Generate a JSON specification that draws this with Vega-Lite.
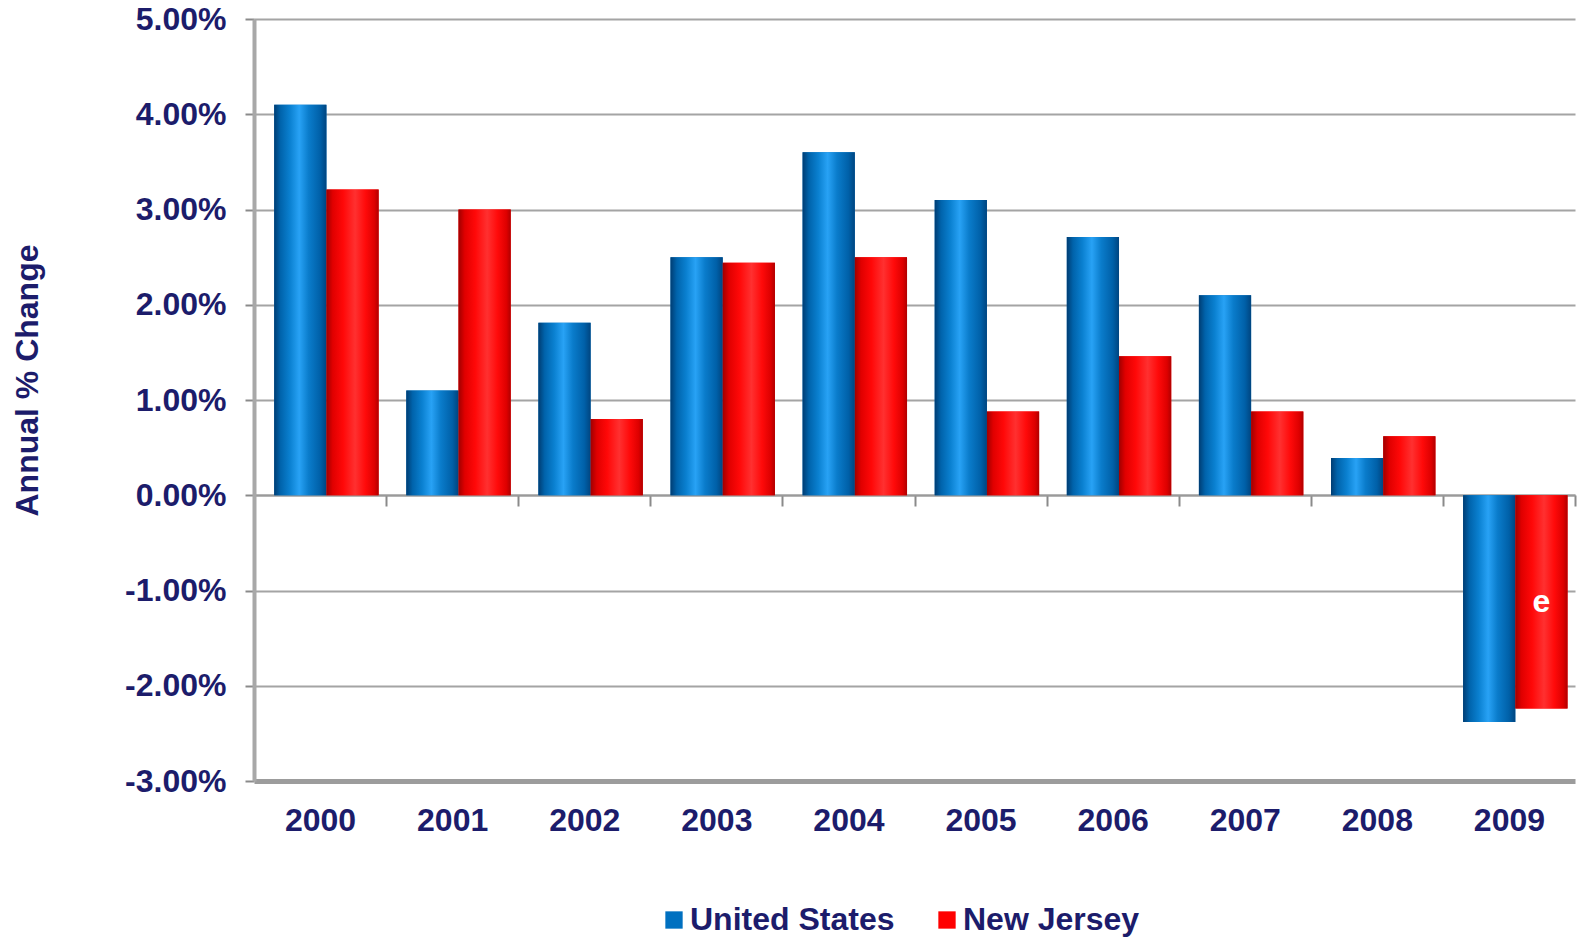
{
  "$schema": "https://vega.github.io/schema/vega-lite/v6.json",
  "width": 1321,
  "height": 762,
  "autosize": {"type": "none"},
  "padding": {"left": 254, "top": 19, "right": 2, "bottom": 156},
  "background": "white",
  "config": {
    "font": "Liberation Sans",
    "view": {"stroke": null}
  },
  "data": {
    "values": [
      {"year": "2000", "series": "United States", "value": 0.0410},
      {"year": "2000", "series": "New Jersey", "value": 0.0321},
      {"year": "2001", "series": "United States", "value": 0.0110},
      {"year": "2001", "series": "New Jersey", "value": 0.0300},
      {"year": "2002", "series": "United States", "value": 0.0181},
      {"year": "2002", "series": "New Jersey", "value": 0.0080},
      {"year": "2003", "series": "United States", "value": 0.0250},
      {"year": "2003", "series": "New Jersey", "value": 0.0244},
      {"year": "2004", "series": "United States", "value": 0.0360},
      {"year": "2004", "series": "New Jersey", "value": 0.0250},
      {"year": "2005", "series": "United States", "value": 0.0310},
      {"year": "2005", "series": "New Jersey", "value": 0.0088},
      {"year": "2006", "series": "United States", "value": 0.0271},
      {"year": "2006", "series": "New Jersey", "value": 0.0146},
      {"year": "2007", "series": "United States", "value": 0.0210},
      {"year": "2007", "series": "New Jersey", "value": 0.0088},
      {"year": "2008", "series": "United States", "value": 0.0039},
      {"year": "2008", "series": "New Jersey", "value": 0.0062},
      {"year": "2009", "series": "United States", "value": -0.0238, "note": ""},
      {"year": "2009", "series": "New Jersey", "value": -0.0224, "note": "e"}
    ]
  },
  "encoding": {
    "x": {
      "field": "year",
      "type": "nominal",
      "scale": {"paddingInner": 0, "paddingOuter": 0},
      "axis": {
        "title": null,
        "orient": "bottom",
        "offset": -286,
        "tickBand": "extent",
        "labelAngle": 0,
        "labelFont": "Liberation Sans",
        "labelFontWeight": "bold",
        "labelFontSize": 32,
        "labelColor": "#1c1c6b",
        "labelPadding": 299,
        "labelBaseline": "top",
        "domainColor": "#9a9a9a",
        "domainWidth": 2,
        "tickColor": "#8a8a8a",
        "tickWidth": 2,
        "tickSize": 11,
        "grid": false
      }
    },
    "xOffset": {
      "field": "series",
      "type": "nominal",
      "sort": ["United States", "New Jersey"],
      "scale": {"paddingInner": 0, "paddingOuter": 0.265, "align": 0.73}
    },
    "y": {
      "field": "value",
      "type": "quantitative",
      "scale": {"domain": [-0.03, 0.05], "nice": false, "zero": false},
      "axis": {
        "format": ".2%",
        "labelExpr": "replace(format(datum.value, '.2%'), '\u2212', '-')",
        "values": [-0.03, -0.02, -0.01, 0, 0.01, 0.02, 0.03, 0.04, 0.05],
        "title": "Annual % Change",
        "titleFont": "Liberation Sans",
        "titleFontWeight": "bold",
        "titleFontSize": 32,
        "titleColor": "#1c1c6b",
        "titleX": -227,
        "titleY": 361,
        "titleAlign": "center",
        "titleBaseline": "middle",
        "labelFont": "Liberation Sans",
        "labelFontWeight": "bold",
        "labelFontSize": 32,
        "labelColor": "#1c1c6b",
        "labelPadding": 19,
        "domainColor": "#a8a8a8",
        "domainWidth": 4,
        "tickColor": "#8a8a8a",
        "tickWidth": 2,
        "tickSize": 9,
        "grid": true,
        "gridColor": {"condition": {"test": "datum.value == -0.03", "value": "#9c9c9c"}, "value": "#a4a4a4"},
        "gridWidth": {"condition": {"test": "datum.value == -0.03", "value": 5}, "value": 2}
      }
    }
  },
  "layer": [
    {
      "mark": {"type": "bar"},
      "encoding": {
        "color": {
          "field": "series",
          "type": "nominal",
          "scale": {"domain": ["United States", "New Jersey"], "range": ["#0070c0", "#ff0000"]},
          "legend": {
            "title": null,
            "orient": "none",
            "direction": "horizontal",
            "legendX": 404,
            "legendY": 885,
            "symbolType": "square",
            "symbolSize": 300,
            "symbolStrokeWidth": 0,
            "labelFont": "Liberation Sans",
            "labelFontWeight": "bold",
            "labelFontSize": 32,
            "labelColor": "#1c1c6b",
            "labelOffset": 0,
            "columnPadding": 36,
            "labelLimit": 400
          }
        }
      }
    },
    {
      "transform": [{"filter": "datum.series == 'United States'"}],
      "mark": {
        "type": "bar",
        "color": {
          "gradient": "linear",
          "x1": 0, "y1": 0, "x2": 1, "y2": 0,
          "stops": [
            {"offset": 0, "color": "#003d73"},
            {"offset": 0.12, "color": "#0063ab"},
            {"offset": 0.3, "color": "#0a80d0"},
            {"offset": 0.48, "color": "#28a2f5"},
            {"offset": 0.66, "color": "#0a7ccb"},
            {"offset": 0.88, "color": "#0060a8"},
            {"offset": 1, "color": "#004580"}
          ]
        }
      }
    },
    {
      "transform": [{"filter": "datum.series == 'New Jersey'"}],
      "mark": {
        "type": "bar",
        "color": {
          "gradient": "linear",
          "x1": 0, "y1": 0, "x2": 1, "y2": 0,
          "stops": [
            {"offset": 0, "color": "#a00000"},
            {"offset": 0.12, "color": "#e00000"},
            {"offset": 0.32, "color": "#ff0808"},
            {"offset": 0.55, "color": "#ff3030"},
            {"offset": 0.75, "color": "#ff0a0a"},
            {"offset": 0.92, "color": "#dd0000"},
            {"offset": 1, "color": "#b00000"}
          ]
        }
      }
    },
    {
      "transform": [
        {"filter": "datum.note == 'e'"},
        {"calculate": "datum.value / 2", "as": "mid"}
      ],
      "mark": {
        "type": "text",
        "font": "Liberation Sans",
        "fontWeight": "bold",
        "fontSize": 32,
        "color": "white",
        "align": "center",
        "baseline": "middle"
      },
      "encoding": {
        "y": {"field": "mid", "type": "quantitative"},
        "text": {"field": "note"}
      }
    }
  ]
}
